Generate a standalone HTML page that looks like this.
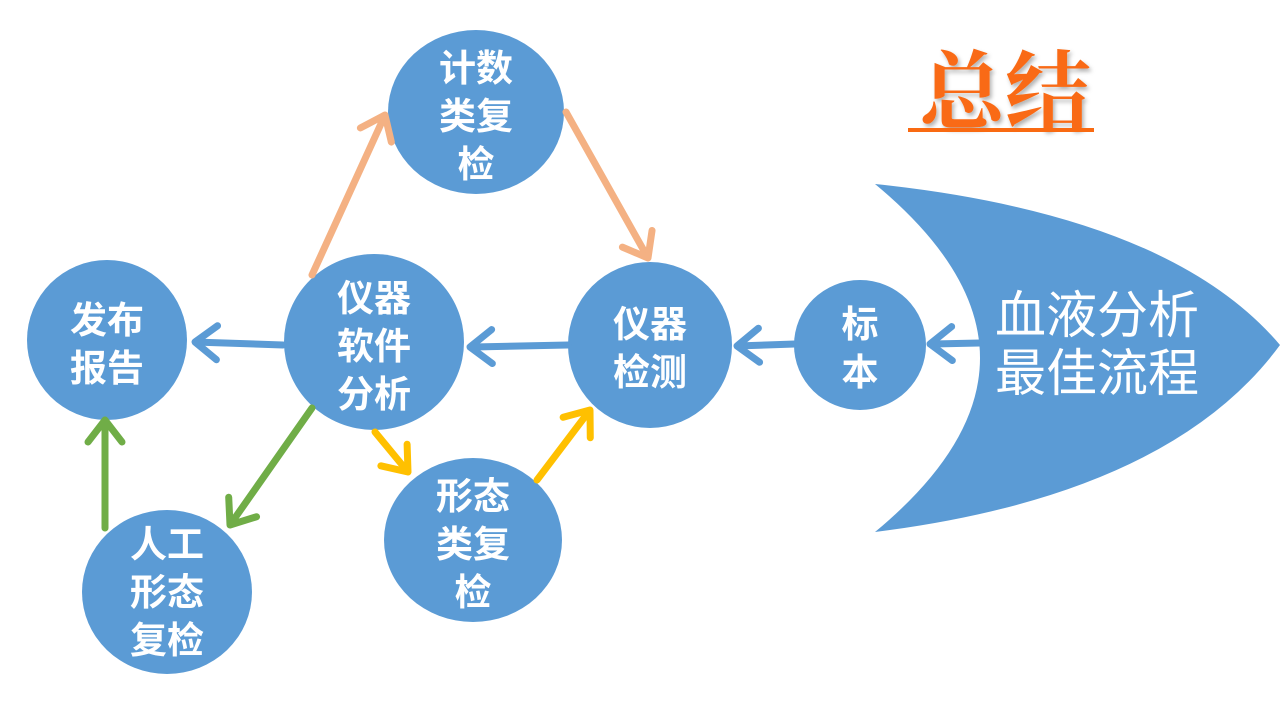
<!DOCTYPE html>
<html><head><meta charset="utf-8"><style>
html,body{margin:0;padding:0;background:#fff;}
svg{display:block;}
text{font-family:"Liberation Sans","Noto Sans CJK SC",sans-serif;fill:#fff;}
</style></head><body>
<svg width="1280" height="720" viewBox="0 0 1280 720" xmlns="http://www.w3.org/2000/svg">
<defs>
<filter id="sh" x="-10%" y="-10%" width="130%" height="130%"><feDropShadow dx="2" dy="3" stdDeviation="2" flood-color="#000" flood-opacity="0.3"/></filter>
</defs>
<text x="1005" y="122" font-size="86" text-anchor="middle" style="fill:#F96A12;font-family:'Liberation Serif','Noto Serif CJK SC',serif;font-weight:bold" filter="url(#sh)">总结</text>
<rect x="908" y="128" width="186" height="4" fill="#F96A12"/>
<path d="M875,184 Q1170,215 1280,345 Q1170,495 875,532 Q1085,358 875,184 Z" fill="#5B9BD5"/>
<text x="1097" y="333" font-size="51" text-anchor="middle">血液分析</text>
<text x="1097" y="391" font-size="51" text-anchor="middle">最佳流程</text>
<g fill="#5B9BD5">
<ellipse cx="476" cy="112" rx="88" ry="82"/>
<ellipse cx="107" cy="340" rx="80" ry="80"/>
<ellipse cx="374" cy="342" rx="90" ry="88"/>
<ellipse cx="650" cy="345" rx="82" ry="83"/>
<ellipse cx="860" cy="345" rx="66" ry="65"/>
<ellipse cx="473" cy="540" rx="89" ry="82"/>
<ellipse cx="167" cy="592" rx="85" ry="82"/>
</g>
<g font-size="37" text-anchor="middle" font-weight="bold">
<text x="476" y="81">计数</text><text x="476" y="129">类复</text><text x="476" y="177">检</text>
<text x="107" y="333">发布</text><text x="107" y="381">报告</text>
<text x="374" y="311">仪器</text><text x="374" y="359">软件</text><text x="374" y="407">分析</text>
<text x="650" y="337">仪器</text><text x="650" y="385">检测</text>
<text x="860" y="337">标</text><text x="860" y="385">本</text>
<text x="473" y="509">形态</text><text x="473" y="557">类复</text><text x="473" y="605">检</text>
<text x="167" y="557">人工</text><text x="167" y="605">形态</text><text x="167" y="653">复检</text>
</g>
<g id="arrows" fill="none" stroke-width="7" stroke-linecap="round" stroke-linejoin="round"></g>
</svg>
<script>
var A=[
[980,343,930,344,"#5B9BD5"],
[795,344,737,346,"#5B9BD5"],
[568,345,470,347,"#5B9BD5"],
[283,345,195,342,"#5B9BD5"],
[312,275,385,115,"#F4B183"],
[566,112,648,258,"#F4B183"],
[375,432,408,472,"#FFC000"],
[537,480,590,410,"#FFC000"],
[312,408,230,525,"#70AD47"],
[105,528,105,420,"#70AD47"]];
var g=document.getElementById('arrows'),s='';
A.forEach(function(a){var dx=a[2]-a[0],dy=a[3]-a[1],L=Math.hypot(dx,dy),ux=dx/L,uy=dy/L,px=-uy,py=ux,h=22,w=17;
var bx=a[2]-ux*h,by=a[3]-uy*h;
s+='<line x1="'+a[0]+'" y1="'+a[1]+'" x2="'+(a[2]-ux*3)+'" y2="'+(a[3]-uy*3)+'" stroke="'+a[4]+'"/>';
s+='<polyline points="'+(bx+px*w)+','+(by+py*w)+' '+a[2]+','+a[3]+' '+(bx-px*w)+','+(by-py*w)+'" stroke="'+a[4]+'"/>';});
g.innerHTML=s;
</script>
</body></html>
